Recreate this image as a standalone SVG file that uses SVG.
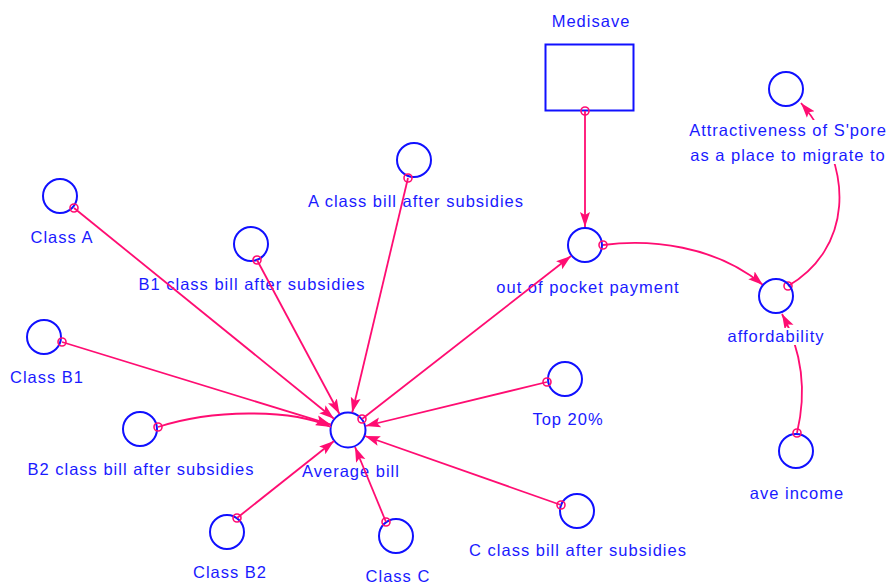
<svg xmlns="http://www.w3.org/2000/svg" width="891" height="584" viewBox="0 0 891 584">
  <style>
    .var { fill: none; stroke: #1010ff; stroke-width: 2; }
    .stock { fill: #ffffff; stroke: #1010ff; stroke-width: 2; }
    .lbl { font-family: "Liberation Sans", Arial, sans-serif; font-size: 16.5px; letter-spacing: 1px; fill: #1a1aff; text-anchor: middle; }
    .bg { fill: #ffffff; }
    .link { fill: none; stroke: #ff0d72; stroke-width: 1.8; marker-start: url(#tail); marker-end: url(#head); }
  </style>
  <defs>
    <marker id="head" markerUnits="userSpaceOnUse" markerWidth="16" markerHeight="12" viewBox="0 0 16 12" refX="15" refY="6" orient="auto">
      <path d="M0,1 L15,6 L0,11 L3,6 z" fill="#ff0d72"/>
    </marker>
    <marker id="tail" markerUnits="userSpaceOnUse" markerWidth="12" markerHeight="12" viewBox="-6 -6 12 12" refX="0" refY="0">
      <circle r="4" fill="none" stroke="#ff0d72" stroke-width="1.6"/>
    </marker>
  </defs>

  <rect width="891" height="584" fill="#ffffff"/>

  <!-- stock -->
  <g id="medisave">
    <rect class="stock" x="545.5" y="44.5" width="88" height="66"/>
    <text class="lbl" x="591" y="27">Medisave</text>
  </g>

  <!-- auxiliaries -->
  <g id="class-a">
    <circle class="var" cx="60" cy="196" r="17"/>
    <text class="lbl" x="62" y="243">Class A</text>
  </g>
  <g id="a-class-bill">
    <circle class="var" cx="414" cy="160" r="17"/>
    <text class="lbl" x="416" y="207">A class bill after subsidies</text>
  </g>
  <g id="b1-class-bill">
    <circle class="var" cx="251" cy="244" r="17"/>
    <text class="lbl" x="252" y="290">B1 class bill after subsidies</text>
  </g>
  <g id="class-b1">
    <circle class="var" cx="44" cy="337" r="17"/>
    <text class="lbl" x="47" y="383">Class B1</text>
  </g>
  <g id="b2-class-bill">
    <circle class="var" cx="140" cy="429" r="17"/>
    <text class="lbl" x="141" y="475">B2 class bill after subsidies</text>
  </g>
  <g id="average-bill">
    <circle class="var" cx="348" cy="430" r="17.5"/>
    <text class="lbl" x="351" y="477">Average bill</text>
  </g>
  <g id="class-b2">
    <circle class="var" cx="227" cy="532" r="17"/>
    <text class="lbl" x="230" y="578">Class B2</text>
  </g>
  <g id="class-c">
    <circle class="var" cx="396" cy="536" r="17"/>
    <text class="lbl" x="398" y="582">Class C</text>
  </g>
  <g id="top-20">
    <circle class="var" cx="565" cy="379" r="17"/>
    <text class="lbl" x="568" y="425">Top 20%</text>
  </g>
  <g id="c-class-bill">
    <circle class="var" cx="577" cy="511" r="17"/>
    <text class="lbl" x="578" y="556">C class bill after subsidies</text>
  </g>
  <g id="out-of-pocket">
    <circle class="var" cx="585" cy="245" r="17"/>
    <text class="lbl" x="588" y="293">out of pocket payment</text>
  </g>
  <g id="ave-income">
    <circle class="var" cx="796" cy="451" r="17"/>
    <text class="lbl" x="797" y="499">ave income</text>
  </g>

  <!-- connectors -->
  <g id="connectors">
    <path class="link" d="M74,208 L334,418.7"/>
    <path class="link" d="M408,178 L352.2,412.5"/>
    <path class="link" d="M257,260 L339.5,414"/>
    <path class="link" d="M62,342 L331,424.7"/>
    <path class="link" d="M158,427 C210,410 290,408 331,427"/>
    <path class="link" d="M237,518 L334,441"/>
    <path class="link" d="M386,522 L355,447"/>
    <path class="link" d="M561,505 L365,436"/>
    <path class="link" d="M547,382 L365.5,426"/>
    <path class="link" d="M362,419 L571,256"/>
    <path class="link" d="M585,111 L585,227"/>
    <path class="link" d="M603,245 C650,239 715,245 763,285"/>
    <path class="link" d="M788,286 C850,250 858,170 801,103"/>
    <path class="link" d="M797,433 Q812,370 782,314"/>
  </g>

  <!-- labels drawn above the links that pass behind them -->
  <g id="affordability">
    <circle class="var" cx="776" cy="296" r="17"/>
    <rect class="bg" x="727" y="328" width="100" height="17"/>
    <text class="lbl" x="776" y="342">affordability</text>
  </g>
  <g id="attractiveness">
    <circle class="var" cx="786" cy="89" r="17"/>
    <rect class="bg" x="687" y="120" width="202" height="44"/>
    <text class="lbl" x="788" y="136">Attractiveness of S'pore</text>
    <text class="lbl" x="788" y="161">as a place to migrate to</text>
  </g>
</svg>
